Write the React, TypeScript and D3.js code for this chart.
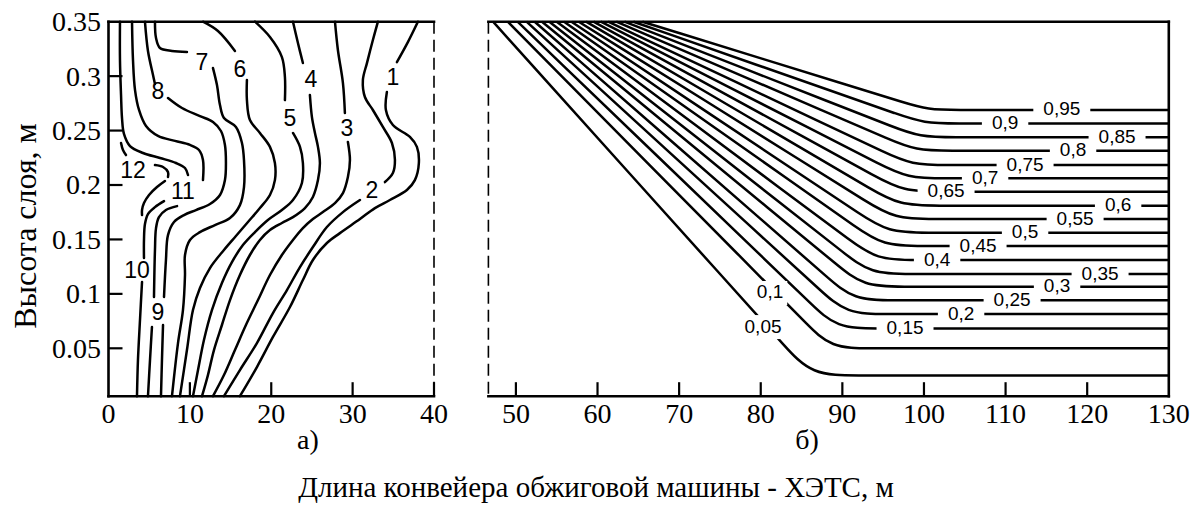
import React from 'react';
import * as d3 from 'd3';

type P = [number, number];

const W = 1193;
const H = 506;

// ---------- axes ----------
const leftXTicks = [0, 10, 20, 30, 40];
const rightXTicks = [50, 60, 70, 80, 90, 100, 110, 120, 130];
const yTicks = [0.05, 0.1, 0.15, 0.2, 0.25, 0.3, 0.35];

// ---------- panel a): contour strokes [length m, height m] ----------
const c1a: P[] = [[38.02, 0.35], [36.79, 0.3313], [35.44, 0.3129]];
const c1b: P[] = [[34.21, 0.2854], [34.09, 0.2689], [34.95, 0.2551], [37.04, 0.2441], [37.9, 0.235], [38.14, 0.2202], [37.65, 0.2045], [36.67, 0.1954], [34.58, 0.1862], [32.74, 0.1788], [30.9, 0.1687], [28.44, 0.1558], [26.84, 0.1467], [25.12, 0.1311], [23.89, 0.1127], [22.3, 0.0879], [20.21, 0.0604], [18.24, 0.0328], [16.15, 0.006]];
const c2a: P[] = [[33.11, 0.35], [32.49, 0.3332], [31.76, 0.312], [31.26, 0.2964], [31.51, 0.2808], [32.49, 0.2689], [33.72, 0.2533], [34.83, 0.2386], [35.2, 0.2229], [34.95, 0.211], [33.97, 0.2027]];
const c2b: P[] = [[30.9, 0.1862], [28.81, 0.1751], [26.84, 0.1614], [25.12, 0.143], [23.53, 0.1246], [21.93, 0.1035], [20.21, 0.0824], [18.24, 0.0548], [16.15, 0.03], [14.19, 0.006]];
const c3a: P[] = [[27.83, 0.35], [28.19, 0.324], [28.81, 0.2936], [29.05, 0.2661]];
const c3b: P[] = [[29.42, 0.2395], [29.67, 0.2229], [29.42, 0.2073], [28.81, 0.1926], [27.83, 0.1834], [26.35, 0.1751], [25.12, 0.1687], [23.89, 0.1604], [22.67, 0.1495], [21.31, 0.1357], [19.84, 0.1173], [18.37, 0.0943], [16.89, 0.0714], [15.54, 0.0484], [14.19, 0.0254], [12.84, 0.006]];
const c4a: P[] = [[22.67, 0.35], [23.28, 0.3304], [23.89, 0.312]];
const c4b: P[] = [[24.75, 0.2827], [25.0, 0.2624], [25.37, 0.2478], [25.74, 0.235], [25.98, 0.2202], [25.74, 0.2045], [25.12, 0.189], [24.14, 0.1788], [22.67, 0.1705], [21.31, 0.1651], [19.84, 0.1586], [18.61, 0.1495], [17.38, 0.1357], [16.15, 0.1173], [14.93, 0.0943], [13.94, 0.0714], [12.96, 0.0484], [12.22, 0.0254], [11.49, 0.006]];
const c5a: P[] = [[18.0, 0.35], [19.84, 0.3359], [21.31, 0.3175], [21.68, 0.2992], [21.68, 0.278]];
const c5b: P[] = [[22.67, 0.2478], [23.53, 0.235], [23.89, 0.2202], [23.77, 0.2018], [22.67, 0.1862], [21.31, 0.177], [19.59, 0.1678], [18.0, 0.1567], [16.52, 0.1448], [15.17, 0.1292], [13.94, 0.11], [12.71, 0.0851], [11.73, 0.0576], [11.0, 0.03], [10.38, 0.006]];
const c6a: P[] = [[11.61, 0.35], [13.45, 0.3414], [15.54, 0.3231]];
const c6b: P[] = [[17.01, 0.2964], [17.01, 0.278], [17.38, 0.2597], [18.61, 0.2478], [19.84, 0.235], [20.45, 0.2202], [20.45, 0.2045], [19.84, 0.1908], [18.61, 0.1788], [17.14, 0.166], [15.66, 0.1531], [14.19, 0.1403], [12.47, 0.1237], [11.24, 0.1054], [10.38, 0.0851], [9.64, 0.0484], [8.78, 0.006]];
const c7a: P[] = [[5.71, 0.35], [5.84, 0.335], [6.33, 0.3258], [7.8, 0.3231], [9.64, 0.3222]];
const c7b: P[] = [[12.84, 0.3074], [13.33, 0.2918], [13.7, 0.2734], [14.19, 0.2615], [15.66, 0.2533], [16.4, 0.2386], [16.65, 0.2229], [16.65, 0.1981], [16.15, 0.1815], [14.93, 0.1696], [13.08, 0.1632], [11.24, 0.1567], [10.01, 0.1495], [9.4, 0.1357], [9.4, 0.1173], [9.15, 0.0851], [8.54, 0.0548], [7.8, 0.006]];
const c8a: P[] = [[4.48, 0.35], [4.85, 0.3231], [5.47, 0.301], [5.71, 0.2927]];
const c8b: P[] = [[7.31, 0.2799], [9.03, 0.2707], [11.24, 0.2633], [12.84, 0.2579], [13.82, 0.2496], [14.31, 0.2368], [14.43, 0.2211], [14.31, 0.2045], [13.7, 0.1908], [12.47, 0.1825], [10.75, 0.177], [9.28, 0.1724], [8.05, 0.166], [7.31, 0.154], [7.06, 0.1311], [6.82, 0.0971]];
const c8c: P[] = [[6.7, 0.0714], [6.57, 0.0392], [6.45, 0.006]];
const c9a: P[] = [[8.42, 0.1806], [7.06, 0.177], [6.2, 0.1705], [5.84, 0.1604], [5.71, 0.1403], [5.59, 0.0971]];
const c9b: P[] = [[5.34, 0.0696], [5.1, 0.0392], [4.85, 0.006]];
const c10a: P[] = [[6.82, 0.1852], [5.71, 0.1797], [4.85, 0.1733], [4.48, 0.1641], [4.36, 0.1495], [4.36, 0.1329]];
const c10b: P[] = [[4.12, 0.1109], [3.87, 0.076], [3.62, 0.0392], [3.5, 0.006]];
const u1: P[] = [[1.41, 0.35], [1.41, 0.3147], [1.54, 0.2827], [1.66, 0.2615], [1.9, 0.2469], [2.64, 0.2358], [4.24, 0.2294], [6.33, 0.2248], [8.29, 0.2202], [9.4, 0.2156], [9.77, 0.2092]];
const u2: P[] = [[2.89, 0.35], [3.01, 0.3147], [3.26, 0.2872], [3.75, 0.2689], [4.61, 0.2542], [6.08, 0.2451], [8.17, 0.2405], [10.01, 0.2368], [11.12, 0.2321], [11.61, 0.2229], [11.61, 0.2045]];
const c12a: P[] = [[1.54, 0.2386], [1.78, 0.2321], [2.15, 0.2275]];
const c12b: P[] = [[5.71, 0.2183], [6.7, 0.2165], [7.31, 0.2119], [7.31, 0.2073]];
const c12c: P[] = [[6.94, 0.2036], [5.96, 0.1981], [4.98, 0.1908], [4.36, 0.1834], [4.12, 0.177], [4.12, 0.1724]];

const leftStrokes: P[][] = [c1a, c1b, c2a, c2b, c3a, c3b, c4a, c4b, c5a, c5b, c6a, c6b, c7a, c7b, c8a, c8b, c8c, c9a, c9b, c10a, c10b, u1, u2, c12a, c12b, c12c];

const leftLabelText = ['1', '2', '3', '4', '5', '6', '7', '8', '9', '10', '11', '12'];
const leftLabelX = [34.95, 32.37, 29.3, 24.88, 22.3, 16.15, 11.49, 6.08, 6.08, 3.5, 9.15, 3.01];
const leftLabelY = [0.2992, 0.1954, 0.2523, 0.2973, 0.2615, 0.3065, 0.3129, 0.2863, 0.0836, 0.1219, 0.1945, 0.2137];

// ---------- panel б): isolines ----------
const levelText = ['0,05', '0,1', '0,15', '0,2', '0,25', '0,3', '0,35', '0,4', '0,45', '0,5', '0,55', '0,6', '0,65', '0,7', '0,75', '0,8', '0,85', '0,9', '0,95'];
const levelY = [0.025, 0.05, 0.0683, 0.0815, 0.0941, 0.1066, 0.1182, 0.1311, 0.1439, 0.1562, 0.1687, 0.181, 0.1938, 0.2061, 0.2183, 0.2315, 0.2438, 0.2566, 0.2689];
const startX = [47.2, 49.0, 50.2, 51.3, 52.3, 53.2, 54.1, 55.0, 55.9, 56.8, 57.7, 58.6, 59.5, 60.4, 61.3, 62.3, 63.3, 64.4, 65.5];
const cornerX = [86.2, 88.6, 89.3, 90.5, 91.4, 92.6, 93.5, 94.2, 95.0, 95.6, 96.4, 97.0, 97.5, 98.0, 98.5, 99.0, 99.5, 100.0, 100.5];
const flatX = [92.0, 93.5, 94.3, 95.5, 96.4, 97.6, 98.5, 99.2, 100.0, 100.6, 101.4, 102.0, 102.5, 102.8, 103.1, 103.5, 104.0, 104.3, 104.5];
const labelX = [80.28, 81.14, 97.68, 104.55, 110.8, 116.31, 121.58, 101.61, 106.63, 112.39, 118.52, 123.79, 102.71, 107.49, 112.39, 118.27, 123.66, 109.94, 116.89];
const labelY = [0.0695, 0.1008, 0.0683, 0.0815, 0.0941, 0.1066, 0.1182, 0.1311, 0.1439, 0.1562, 0.1687, 0.181, 0.1938, 0.2061, 0.2183, 0.2315, 0.2438, 0.2566, 0.2689];

const glyphW: Record<string, number> = { ',': 0.278 };
const textWidth = (s: string, fs: number) => s.split('').reduce((a, ch) => a + (glyphW[ch] ?? 0.556), 0) * fs;

export default function App() {
  const xL = d3.scaleLinear().domain([0, 40]).range([108.5, 434]);
  const xR = d3.scaleLinear().domain([46.63, 130]).range([488.4, 1168.8]);
  const y = d3.scaleLinear().domain([0.006, 0.35]).range([396.2, 21.7]);

  const lineL = d3.line<P>().x((d) => xL(d[0])).y((d) => y(d[1])).curve(d3.curveCatmullRom.alpha(0.5));
  const lineR = d3.line<P>().curve(d3.curveBasis);

  const top = y(0.35);
  const bot = y(0.006);
  const serif = '"Liberation Serif", "Times New Roman", serif';
  const sans = '"Liberation Sans", Arial, sans-serif';
  const lw = 2.5;
  const labFs = 19;

  const rightPaths = levelY.map((L, i) => {
    const S: P = [xR(startX[i]), y(0.35)];
    const C: P = [xR(cornerX[i]), y(L)];
    const B: P = [xR(flatX[i]), y(L)];
    const E: P = [xR(130), y(L)];
    const r = B[0] - C[0];
    const dx = S[0] - C[0];
    const dy = S[1] - C[1];
    const len = Math.hypot(dx, dy);
    const ux = dx / len;
    const uy = dy / len;
    const A: P = [C[0] + ux * r * 0.9, C[1] + uy * r * 0.9];
    const A0: P = [C[0] + ux * r * 1.8, C[1] + uy * r * 1.8];
    const B0: P = [C[0] + r * 2, C[1]];
    return lineR([S, S, S, A0, A, C, B, B0, E, E, E]) as string;
  });

  return (
    <svg width={W} height={H} style={{ position: 'absolute', left: 0, top: 0, background: '#fff' }}>
      <rect x={0} y={0} width={W} height={H} fill="#fff" />

      {/* ---- panel a) contours ---- */}
      <g fill="none" stroke="#000" strokeWidth={lw} strokeLinecap="round" strokeLinejoin="round">
        {leftStrokes.map((s, i) => (
          <path key={i} d={lineL(s) as string} />
        ))}
      </g>
      <g fontFamily={sans} fontSize={23} textAnchor="middle" dominantBaseline="central">
        {leftLabelText.map((t, i) => (
          <text key={t} x={xL(leftLabelX[i])} y={y(leftLabelY[i])}>
            {t}
          </text>
        ))}
      </g>

      {/* ---- panel б) isolines ---- */}
      <g fill="none" stroke="#000" strokeWidth={lw} strokeLinecap="butt">
        {rightPaths.map((d, i) => (
          <path key={i} d={d} />
        ))}
      </g>
      {levelText.map((t, i) => {
        const w = textWidth(t, labFs);
        const cx = xR(labelX[i]);
        const cy = y(labelY[i]);
        const diag = i < 2;
        return (
          <g key={t}>
            {diag ? (
              <rect x={cx - w / 2 - 4} y={cy - 12} width={w + 8} height={24} fill="#fff" />
            ) : (
              <rect x={cx - w / 2 - 10} y={y(levelY[i]) - 3.5} width={w + 20} height={7} fill="#fff" />
            )}
            <text x={cx} y={cy - 1} fontFamily={sans} fontSize={labFs} textAnchor="middle" dominantBaseline="central">
              {t}
            </text>
          </g>
        );
      })}

      {/* ---- frames ---- */}
      <g stroke="#000" strokeWidth={2.6} fill="none" strokeLinecap="square">
        <line x1={xL(0)} y1={top} x2={xL(40)} y2={top} />
        <line x1={xL(0)} y1={top} x2={xL(0)} y2={bot} />
        <line x1={xL(0)} y1={bot} x2={xL(40)} y2={bot} />
        <line x1={xR(46.63)} y1={top} x2={xR(130)} y2={top} />
        <line x1={xR(130)} y1={top} x2={xR(130)} y2={bot} />
        <line x1={xR(46.63)} y1={bot} x2={xR(130)} y2={bot} />
      </g>
      <g stroke="#000" strokeWidth={1.6} strokeDasharray="12 6">
        <line x1={xL(40)} y1={top} x2={xL(40)} y2={bot} />
        <line x1={xR(46.63)} y1={top} x2={xR(46.63)} y2={bot} />
      </g>

      {/* ---- ticks ---- */}
      <g stroke="#000" strokeWidth={2.2}>
        {yTicks.slice(0, -1).map((v) => (
          <line key={v} x1={xL(0)} x2={xL(0) + 14} y1={y(v)} y2={y(v)} />
        ))}
        {leftXTicks.slice(1).map((v) => (
          <line key={'l' + v} x1={xL(v)} x2={xL(v)} y1={bot} y2={bot - 14} />
        ))}
        {rightXTicks.slice(0, -1).map((v) => (
          <line key={'r' + v} x1={xR(v)} x2={xR(v)} y1={bot} y2={bot - 14} />
        ))}
      </g>
      <g fontFamily={serif} fontSize={28} fill="#000">
        {yTicks.map((v) => (
          <text key={v} x={101} y={y(v)} textAnchor="end" dominantBaseline="central">
            {String(v)}
          </text>
        ))}
        {leftXTicks.map((v) => (
          <text key={'l' + v} x={xL(v)} y={423} textAnchor="middle">
            {v}
          </text>
        ))}
        {rightXTicks.map((v) => (
          <text key={'r' + v} x={xR(v)} y={423} textAnchor="middle">
            {v}
          </text>
        ))}
        <text x={308} y={449} textAnchor="middle">а)</text>
        <text x={807} y={449} textAnchor="middle">б)</text>
        <text x={596} y={497} textAnchor="middle" fontSize={29}>
          Длина конвейера обжиговой машины - ХЭТС, м
        </text>
        <text x={0} y={0} transform="translate(36,226) rotate(-90)" textAnchor="middle" fontSize={32}>
          Высота слоя, м
        </text>
      </g>
    </svg>
  );
}
